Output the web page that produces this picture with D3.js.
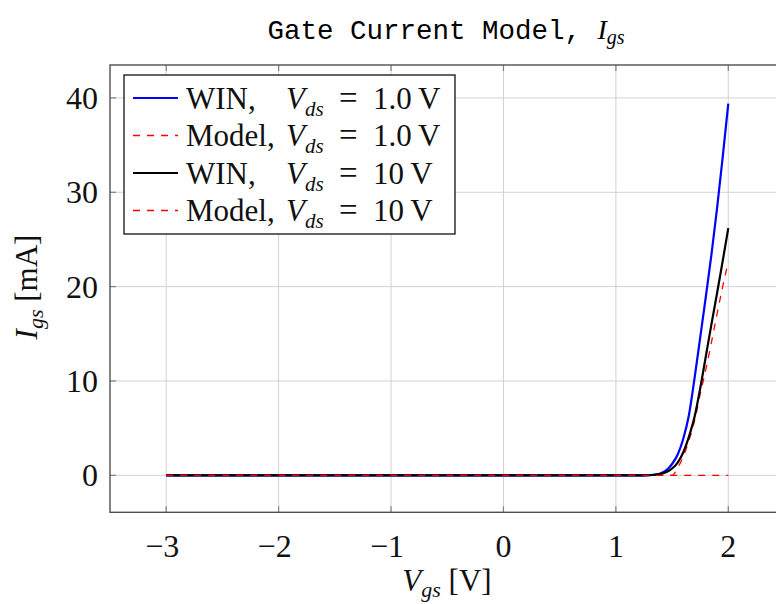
<!DOCTYPE html>
<html>
<head>
<meta charset="utf-8">
<script src="https://cdn.jsdelivr.net/npm/d3@7"></script>
<style>
  html, body { margin: 0; padding: 0; background: #fff; }
  svg { display: block; }
  text { white-space: pre; }
</style>
</head>
<body>
<div id="chart"></div>
<script>
// Gate-source voltage samples [V]
const vgs = [-3, -2, -1, 0, 1, 1.2, 1.3, 1.35, 1.4, 1.45, 1.5, 1.55, 1.6, 1.65, 1.7, 1.75, 1.8, 1.85, 1.9, 1.95, 2.0];
// Gate current [mA]
const winVds1  = [0, 0, 0, 0, 0, 0, 0.03, 0.08, 0.22, 0.55, 1.2, 2.2, 3.9, 6.4, 10.3, 14.6, 18.9, 23.4, 28.3, 33.7, 39.4];
const modelVds1 = [0, 0, 0, 0, 0, 0, 0, 0, 0, 0, 0, 0.8, 2.0, 3.7, 5.8, 8.6, 11.2, 14.1, 17.1, 20.0, 22.65];
const winVds10 = [0, 0, 0, 0, 0, 0, 0.02, 0.06, 0.15, 0.35, 0.72, 1.35, 2.45, 4.1, 6.2, 9.2, 12.6, 16.0, 19.3, 22.7, 26.2];
const modelVds10 = [0, 0, 0, 0, 0, 0, 0, 0, 0, 0, 0, 0, 0, 0, 0, 0, 0, 0, 0, 0, 0];

const xTicks = [-3, -2, -1, 0, 1, 2];
const yTicks = [0, 10, 20, 30, 40];

const seriesNames = ["WIN,", "Model,", "WIN,", "Model,"];
const seriesVds = ["1.0", "1.0", "10", "10"];
const seriesColors = ["#0000ff", "#ff0000", "#000000", "#ff0000"];
const seriesDashed = [false, true, false, true];
const seriesValues = [winVds1, modelVds1, winVds10, modelVds10];

const W = 776, H = 604;
const plot = { left: 110, right: 784.5, top: 65, bottom: 512.3 };

const svg = d3.select("#chart").append("svg")
  .attr("width", W).attr("height", H);

const x = d3.scaleLinear().domain([-3.5, 2.5]).range([plot.left, plot.right]);
const y = d3.scaleLinear().domain([-3.92, 43.49]).range([plot.bottom, plot.top]);

const serif = "'Liberation Serif', 'Times New Roman', serif";
const mono = "'Liberation Mono', 'DejaVu Sans Mono', monospace";

svg.append("clipPath").attr("id", "plotClip").append("rect")
  .attr("x", plot.left).attr("y", plot.top)
  .attr("width", plot.right - plot.left).attr("height", plot.bottom - plot.top);

// grid
const grid = svg.append("g").attr("stroke", "#d2d2d2").attr("stroke-width", 1);
grid.selectAll("line.gx").data(xTicks).join("line")
  .attr("x1", d => x(d)).attr("x2", d => x(d))
  .attr("y1", plot.top).attr("y2", plot.bottom);
grid.selectAll("line.gy").data(yTicks).join("line")
  .attr("x1", plot.left).attr("x2", plot.right)
  .attr("y1", d => y(d)).attr("y2", d => y(d));

// inward tick marks on all four sides
const tk = svg.append("g").attr("stroke", "#808080").attr("stroke-width", 1.2);
xTicks.forEach(t => {
  tk.append("line").attr("x1", x(t)).attr("x2", x(t)).attr("y1", plot.bottom).attr("y2", plot.bottom - 6);
  tk.append("line").attr("x1", x(t)).attr("x2", x(t)).attr("y1", plot.top).attr("y2", plot.top + 6);
});
yTicks.forEach(t => {
  tk.append("line").attr("x1", plot.left).attr("x2", plot.left + 6).attr("y1", y(t)).attr("y2", y(t));
  tk.append("line").attr("x1", plot.right).attr("x2", plot.right - 6).attr("y1", y(t)).attr("y2", y(t));
});

// curves
const line = d3.line()
  .x((d, i) => x(vgs[i]))
  .y(d => y(d))
  .curve(d3.curveMonotoneX);

const curves = svg.append("g").attr("clip-path", "url(#plotClip)");
seriesValues.forEach((vals, k) => {
  curves.append("path")
    .attr("d", line(vals))
    .attr("fill", "none")
    .attr("stroke", seriesColors[k])
    .attr("stroke-width", seriesDashed[k] ? 1.3 : 2.2)
    .attr("stroke-dasharray", seriesDashed[k] ? "7,7" : null);
});

// frame
svg.append("rect")
  .attr("x", plot.left).attr("y", plot.top)
  .attr("width", plot.right - plot.left).attr("height", plot.bottom - plot.top)
  .attr("fill", "none").attr("stroke", "#505050").attr("stroke-width", 1.4);

// axis tick labels
const fmt = d => d < 0 ? "\u2212" + Math.abs(d) : String(d);
svg.append("g").selectAll("text").data(xTicks).join("text")
  .attr("x", d => x(d) + (d < 0 ? -4 : 0)).attr("y", 557)
  .attr("text-anchor", "middle")
  .attr("font-family", serif).attr("font-size", 32)
  .attr("fill", "#111")
  .text(fmt);
svg.append("g").selectAll("text").data(yTicks).join("text")
  .attr("x", 98).attr("y", d => y(d) + 11)
  .attr("text-anchor", "end")
  .attr("font-family", serif).attr("font-size", 32)
  .attr("fill", "#111")
  .text(fmt);

// axis titles
const xl = svg.append("text")
  .attr("x", 447).attr("y", 591)
  .attr("text-anchor", "middle")
  .attr("font-family", serif).attr("font-size", 31).attr("fill", "#111");
xl.append("tspan").attr("font-style", "italic").text("V");
xl.append("tspan").attr("font-style", "italic").attr("font-size", 22).attr("dy", 6).text("gs");
xl.append("tspan").attr("dy", -6).text(" [V]");

const yl = svg.append("text")
  .attr("transform", "translate(37,287) rotate(-90)")
  .attr("text-anchor", "middle")
  .attr("font-family", serif).attr("font-size", 31).attr("fill", "#111");
yl.append("tspan").attr("font-style", "italic").text("I");
yl.append("tspan").attr("font-style", "italic").attr("font-size", 22).attr("dy", 6).text("gs");
yl.append("tspan").attr("dy", -6).text(" [mA]");

// title
const tt = svg.append("text")
  .attr("x", 446).attr("y", 39)
  .attr("text-anchor", "middle").attr("fill", "#000");
tt.append("tspan").attr("font-family", mono).attr("font-size", 27.5).text("Gate Current Model, ");
tt.append("tspan").attr("font-family", serif).attr("font-style", "italic").attr("font-size", 28).text("I");
tt.append("tspan").attr("font-family", serif).attr("font-style", "italic").attr("font-size", 20).attr("dy", 5).text("gs");

// legend
const lg = svg.append("g");
lg.append("rect")
  .attr("x", 124).attr("y", 75).attr("width", 331).attr("height", 159)
  .attr("fill", "#fff").attr("stroke", "#111").attr("stroke-width", 1.3);
const rowY = [98, 135.5, 173, 210.5];
seriesNames.forEach((name, k) => {
  const cy = rowY[k];
  const base = cy + 10.5;
  lg.append("line")
    .attr("x1", 133).attr("x2", 178).attr("y1", cy).attr("y2", cy)
    .attr("stroke", seriesColors[k])
    .attr("stroke-width", seriesDashed[k] ? 1.3 : 2.2)
    .attr("stroke-dasharray", seriesDashed[k] ? "7,7" : null);
  lg.append("text")
    .attr("x", 186).attr("y", base)
    .attr("font-family", serif).attr("font-size", 31).attr("fill", "#111")
    .text(name);
  const m = lg.append("text")
    .attr("x", 286).attr("y", base)
    .attr("font-family", serif).attr("font-size", 31).attr("fill", "#111");
  m.append("tspan").attr("font-style", "italic").text("V");
  m.append("tspan").attr("font-style", "italic").attr("font-size", 21).attr("dy", 7).text("ds");
  lg.append("text")
    .attr("x", 339).attr("y", base)
    .attr("font-family", serif).attr("font-size", 33).attr("fill", "#111")
    .text("=");
  lg.append("text")
    .attr("x", 373).attr("y", base)
    .attr("font-family", serif).attr("font-size", 31).attr("fill", "#111")
    .text(seriesVds[k] + "\u2009V");
});
</script>
</body>
</html>
